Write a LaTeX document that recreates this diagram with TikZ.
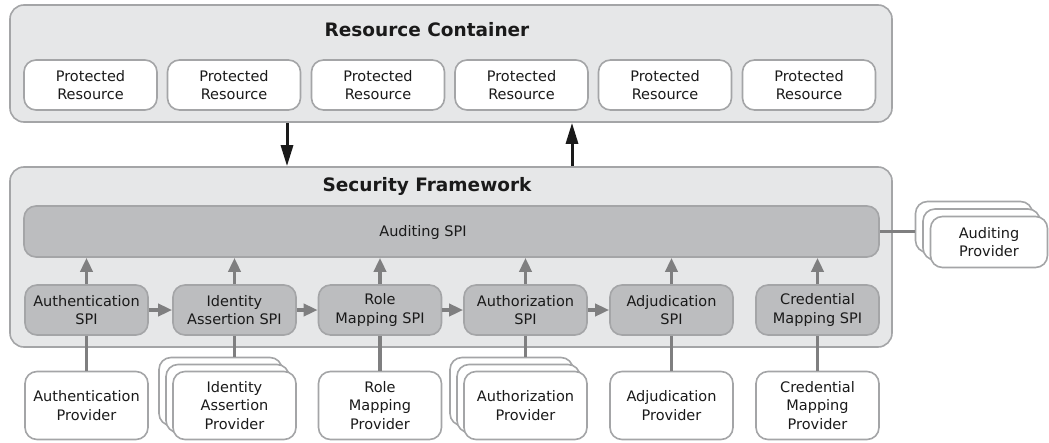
\documentclass[tikz,border=0pt]{standalone}
\usepackage{fontspec}
\setmainfont{DejaVu Sans}
\usetikzlibrary{arrows.meta}
\definecolor{panel}{HTML}{E6E7E8}
\definecolor{panelline}{HTML}{A4A5A7}
\definecolor{spi}{HTML}{BCBDBF}
\definecolor{link}{HTML}{7F7F80}
\definecolor{ink}{HTML}{1A1A1A}
\tikzset{
  panelbox/.style={draw=panelline, fill=panel, line width=1.6pt, rounded corners=14pt},
  label/.style={font=\fontsize{14.5}{18.5}\selectfont, text=ink, align=center, inner sep=0pt},
  heading/.style={font=\fontsize{18.5}{22}\selectfont\bfseries, text=ink},
  resbox/.style={label, draw=panelline, fill=white, line width=1.6pt, rounded corners=12pt,
    minimum width=133pt, minimum height=50pt},
  spibox/.style={label, draw=panelline, fill=spi, line width=1.6pt, rounded corners=12pt,
    minimum width=123pt, minimum height=50pt},
  provbox/.style={label, draw=panelline, fill=white, line width=1.6pt, rounded corners=12pt,
    minimum width=123pt, minimum height=68pt},
  audbox/.style={label, draw=panelline, fill=white, line width=1.6pt, rounded corners=12pt,
    minimum width=117pt, minimum height=51pt},
  flow/.style={draw=link, line width=3.5pt, -{Triangle[length=14pt, width=12pt]}},
  tie/.style={draw=link, line width=3.5pt},
  call/.style={draw=ink, line width=3pt, -{Triangle[length=21pt, width=12pt]}},
}
\begin{document}
\begin{tikzpicture}[x=1pt, y=-1pt]
\useasboundingbox (0,0) rectangle (1049,442);

% Resource container with its protected resources
\node[panelbox, minimum width=882pt, minimum height=117pt, inner sep=0] (rc) at (451,63.5) {};
\node[heading] (rct) at (427,30) {Resource Container};
\foreach \i/\x in {1/90.5, 2/234, 3/378, 4/521.5, 5/665, 6/809}
  \node[resbox] (r\i) at (\x,85) {Protected\\Resource};

% Security framework
\node[panelbox, minimum width=882pt, minimum height=180pt, inner sep=0] (sf) at (451,257) {};
\node[heading] (sft) at (427,186) {Security Framework};

% Calls between the container and the framework
\coordinate (dn) at (287,0);
\coordinate (up) at (572,0);
\draw[call] (dn |- rc.south) -- (dn |- sf.north);
\draw[call] (up |- sf.north) -- (up |- rc.south);

% Auditing SPI bar
\node[spibox, minimum width=855pt, minimum height=51pt] (aud) at (451.5,231.5) {};
\node[label] (audt) at (423,232) {Auditing SPI};

% SPI boxes
\node[spibox] (s1) at (86.5,310) {Authentication\\SPI};
\node[spibox] (s2) at (234.5,310) {Identity\\Assertion SPI};
\node[spibox] (s3) at (380,310) {Role\\Mapping SPI};
\node[spibox] (s4) at (525.5,310) {Authorization\\SPI};
\node[spibox] (s5) at (671.5,310) {Adjudication\\SPI};
\node[spibox] (s6) at (817.5,310) {Credential\\Mapping SPI};

\foreach \i in {1,...,6}
  \draw[flow] (s\i.north) -- (s\i.north |- aud.south);
\foreach \i/\j in {1/2, 2/3, 3/4, 4/5}
  \draw[flow] (s\i.east) -- (s\j.west);

% Auditing providers (stacked)
\node[audbox] (ap3) at (974,227) {};
\node[audbox] (ap2) at (981.5,234.5) {};
\node[audbox] (ap1) at (989,242) {Auditing\\Provider};
\draw[tie] (aud.east) -- (aud.east -| ap3.west);

% Providers
\node[provbox] (p1) at (86.5,405.5) {Authentication\\Provider};

\node[provbox] (p2c) at (220.5,391.5) {};
\node[provbox] (p2b) at (227.5,398.5) {};
\node[provbox] (p2) at (234.5,405.5) {Identity\\Assertion\\Provider};

\node[provbox] (p3) at (380,405.5) {Role\\Mapping\\Provider};

\node[provbox] (p4c) at (511.5,391.5) {};
\node[provbox] (p4b) at (518.5,398.5) {};
\node[provbox] (p4) at (525.5,405.5) {Authorization\\Provider};

\node[provbox] (p5) at (671.5,405.5) {Adjudication\\Provider};
\node[provbox] (p6) at (817.5,405.5) {Credential\\Mapping\\Provider};

\draw[tie] (s1.south) -- (p1.north);
\draw[tie] (s2.south) -- (s2.south |- p2c.north);
\draw[tie] (s3.south) -- (p3.north);
\draw[tie] (s4.south) -- (s4.south |- p4c.north);
\draw[tie] (s5.south) -- (p5.north);
\draw[tie] (s6.south) -- (p6.north);
\end{tikzpicture}
\end{document}
